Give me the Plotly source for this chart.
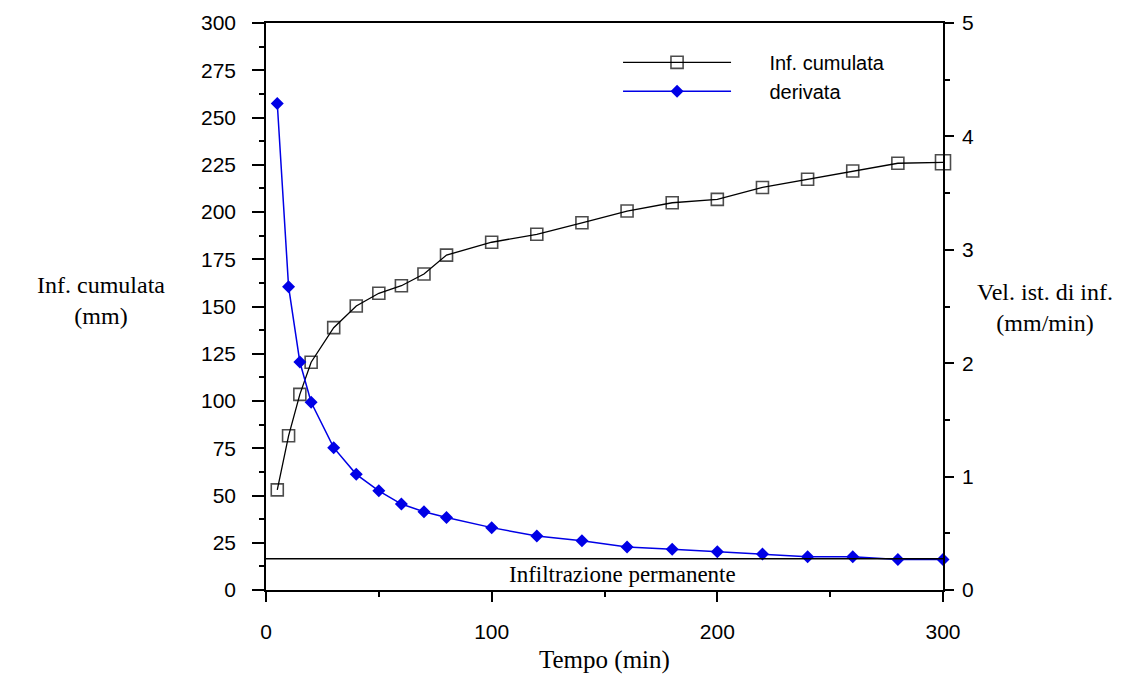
import plotly.graph_objects as go

# Data
tempo = [5, 10, 15, 20, 30, 40, 50, 60, 70, 80, 100, 120, 140, 160, 180, 200, 220, 240, 260, 280, 300]
inf_cumulata = [53, 81.6, 103.5, 120.5, 138.8, 150.3, 157, 161, 167.2, 177.2, 184, 188.2, 194.3,
                200.5, 204.9, 206.7, 213, 217.3, 221.7, 225.8, 226.3]
derivata = [4.29, 2.675, 2.01, 1.655, 1.255, 1.02, 0.875, 0.758, 0.69, 0.64, 0.55, 0.476, 0.435,
            0.38, 0.36, 0.338, 0.317, 0.294, 0.294, 0.27, 0.27]
inf_permanente = 0.275  # mm/min

left_ticks = list(range(0, 301, 25))
right_ticks = [0, 1, 2, 3, 4, 5]
x_ticks = [0, 100, 200, 300]

Y2MAX = 5
YMAX = 300

sans = "Liberation Sans"
serif = "Liberation Serif"
NB = "\u00a0"
BLUE = "#0000e6"

square_sizes = [12] * (len(tempo) - 1) + [15]

fig = go.Figure()
fig.add_trace(go.Scatter(
    x=tempo, y=inf_cumulata, name=NB * 6 + "Inf. cumulata", mode="lines+markers",
    line=dict(color="black", width=1.3),
    marker=dict(symbol="square-open", size=square_sizes, color="black", line=dict(width=1.6)),
    cliponaxis=False, yaxis="y"))
fig.add_trace(go.Scatter(
    x=tempo, y=derivata, name=NB * 6 + "derivata", mode="lines+markers",
    line=dict(color=BLUE, width=1.5),
    marker=dict(symbol="diamond", size=10, color=BLUE),
    cliponaxis=False, yaxis="y2"))

fig.add_shape(type="line", xref="x", yref="y2", x0=0, x1=300, y0=inf_permanente, y1=inf_permanente,
              line=dict(color="black", width=1.5))
fig.add_annotation(x=158, y=inf_permanente / 2, xref="x", yref="y2", text="Infiltrazione permanente",
                   showarrow=False, font=dict(family=serif, size=23, color="black"))

axis_font = dict(family=sans, size=21, color="black")
fig.update_layout(
    width=1137, height=667,
    margin=dict(l=258, r=202, t=15, b=85, autoexpand=False),
    paper_bgcolor="white", plot_bgcolor="white",
    showlegend=True,
    legend=dict(x=0.52, y=0.965, xanchor="left", yanchor="top", bgcolor="rgba(0,0,0,0)",
                font=dict(family=sans, size=20, color="black"), itemwidth=108),
    xaxis=dict(range=[0, 300], tickvals=x_ticks, ticks="outside", ticklen=10, tickwidth=1.5,
               tickcolor="black", showline=True, linecolor="black", linewidth=1.5, mirror=True,
               showgrid=False, zeroline=False, tickfont=axis_font, ticklabelstandoff=12,
               automargin=False,
               minor=dict(dtick=50, ticks="outside", ticklen=5, tickwidth=1.5, tickcolor="black")),
    yaxis=dict(range=[0, YMAX], tickvals=left_ticks, ticks="outside", ticklen=12, tickwidth=1.5,
               tickcolor="black", showline=True, linecolor="black", linewidth=1.5,
               showgrid=False, zeroline=False, tickfont=axis_font, ticklabelstandoff=12,
               automargin=False,
               minor=dict(dtick=12.5, ticks="outside", ticklen=5, tickwidth=1.5, tickcolor="black")),
    yaxis2=dict(range=[0, Y2MAX], tickvals=right_ticks, overlaying="y", side="right",
                ticks="outside", ticklen=9, tickwidth=1.5, tickcolor="black", showline=True,
                linecolor="black", linewidth=1.5, showgrid=False, zeroline=False,
                tickfont=axis_font, ticklabelstandoff=4, automargin=False,
                minor=dict(dtick=0.5, ticks="outside", ticklen=5, tickwidth=1.5, tickcolor="black")),
)

title_font = dict(family=serif, size=24, color="black")
fig.add_annotation(x=-0.2437, y=0.51, xref="paper", yref="paper", xanchor="center", yanchor="middle",
                   text="Inf. cumulata<br>(mm)", showarrow=False, font=title_font, align="center")
fig.add_annotation(x=1.151, y=0.499, xref="paper", yref="paper", xanchor="center", yanchor="middle",
                   text="Vel. ist. di inf.<br>(mm/min)", showarrow=False, font=title_font, align="center")
fig.add_annotation(x=0.5, y=-0.123, xref="paper", yref="paper", xanchor="center", yanchor="middle",
                   text="Tempo (min)", showarrow=False, font=dict(family=serif, size=25, color="black"))

fig.write_html("out.html")
